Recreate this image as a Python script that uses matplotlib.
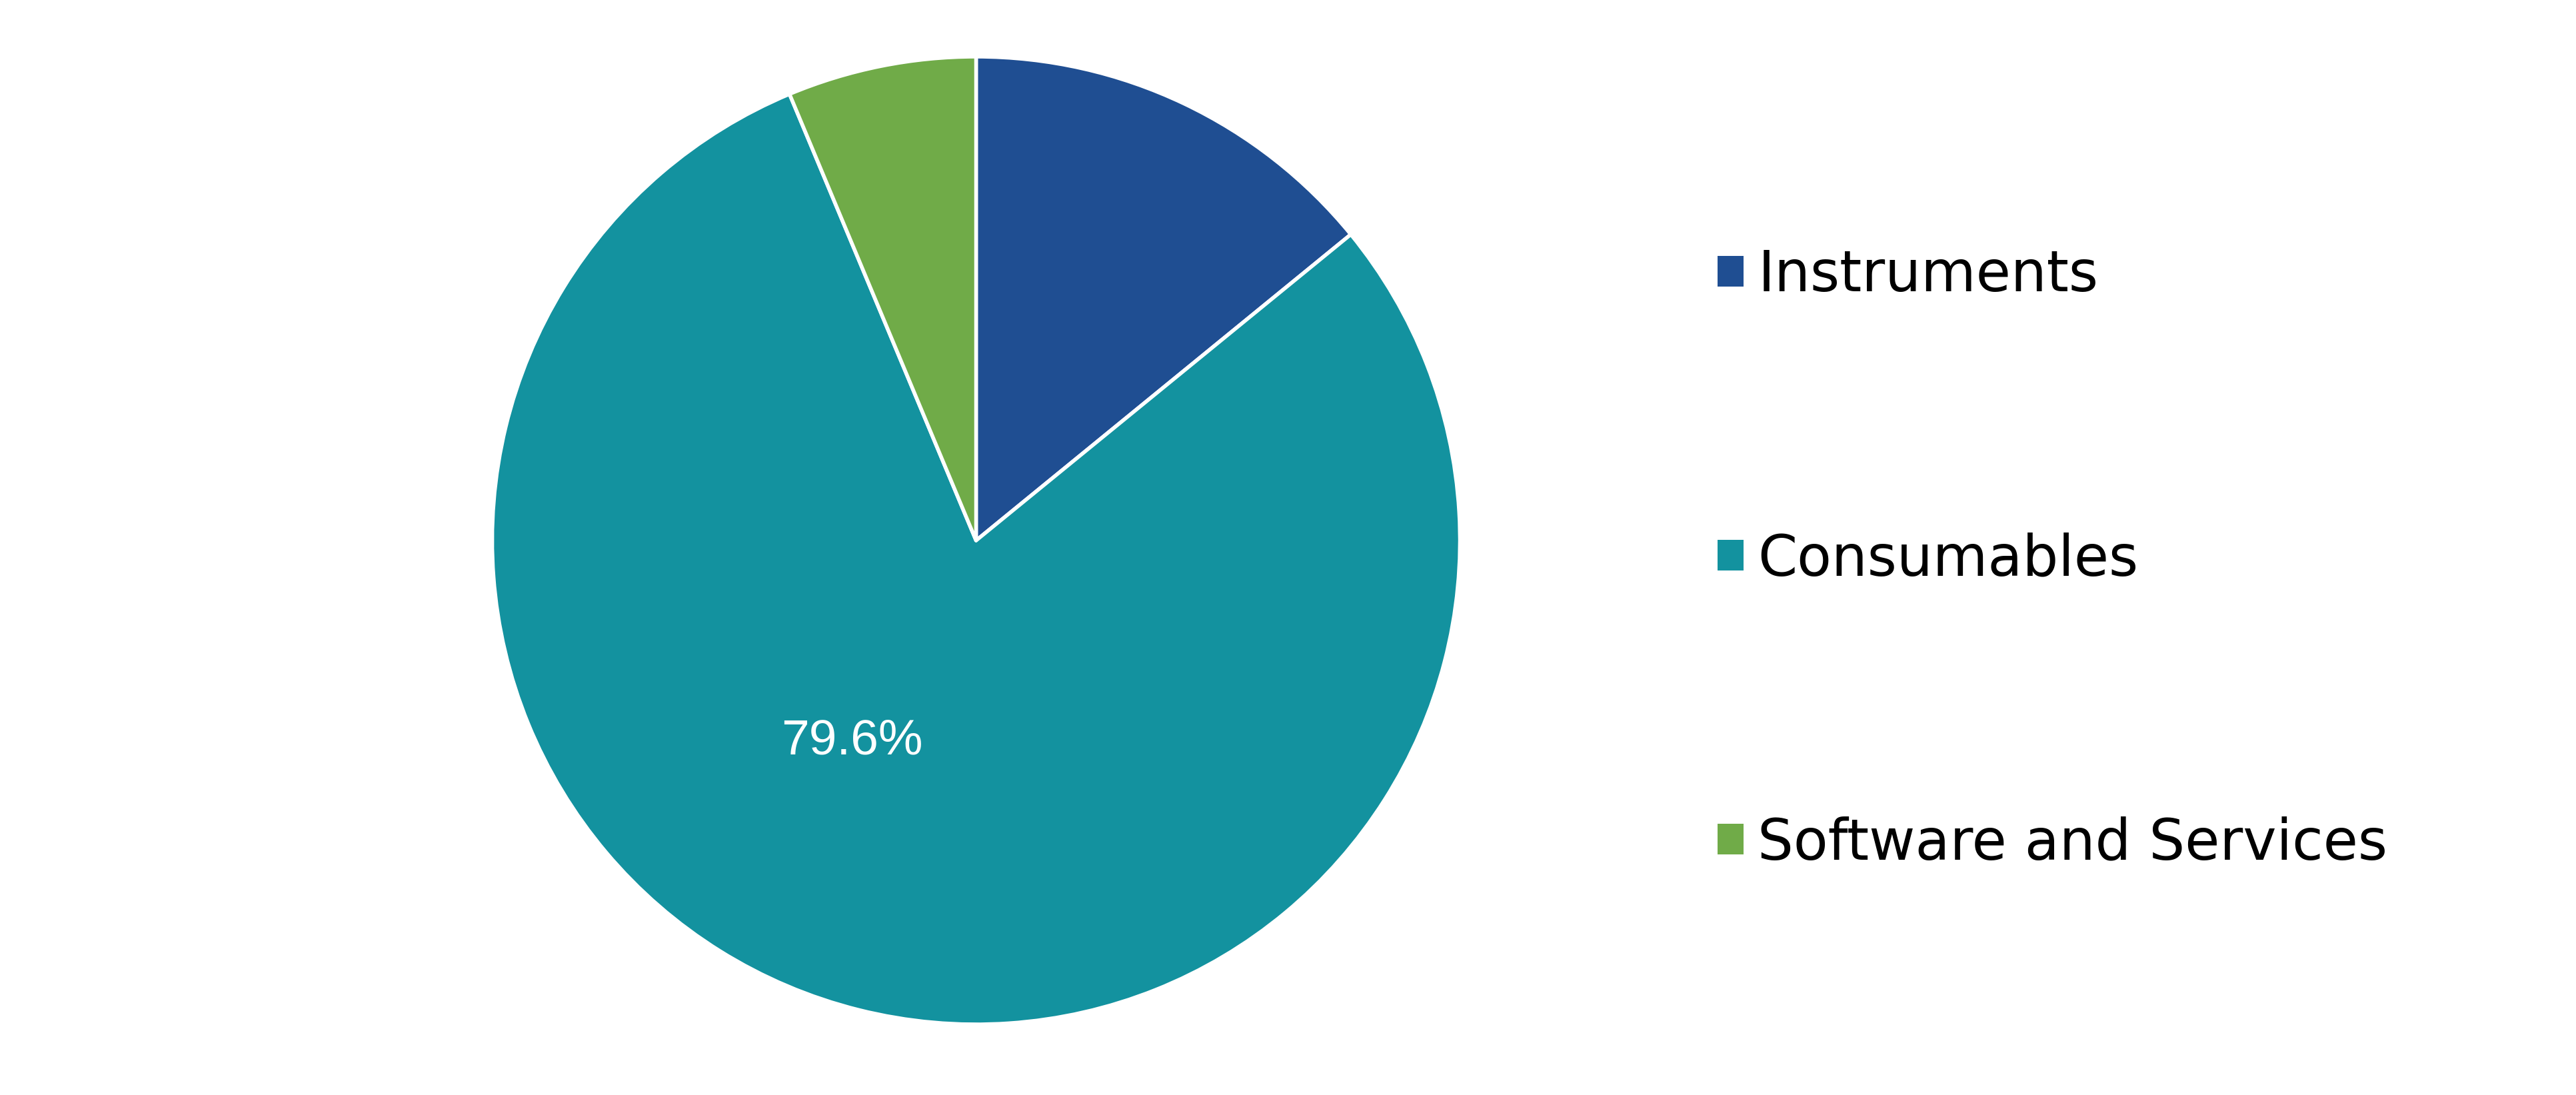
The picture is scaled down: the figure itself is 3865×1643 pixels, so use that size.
import matplotlib
matplotlib.use("Agg")
import matplotlib.pyplot as plt
from matplotlib.patches import Patch

categories = ["Instruments", "Consumables", "Software and Services"]
shares = [14.1, 79.6, 6.3]
colors = ["#1F4E92", "#13929F", "#70AB48"]
shown_label = "79.6%"

W, H, DPI = 3866, 1643, 200
fig = plt.figure(figsize=(W / DPI, H / DPI), dpi=DPI)
fig.patch.set_facecolor("white")

cx, cy, r = 1464.5, 811, 726
ax = fig.add_axes([(cx - r) / W, (H - cy - r) / H, 2 * r / W, 2 * r / H])
wedges, _ = ax.pie(shares, colors=colors, startangle=90, counterclock=False,
                   radius=1.0,
                   wedgeprops=dict(edgecolor="white", linewidth=2.0, joinstyle="round"))
ax.set_xlim(-1, 1)
ax.set_ylim(-1, 1)
ax.set_aspect("equal")
ax.axis("off")

ax.text(-0.257, -0.415, shown_label, color="white", fontsize=27,
        family="Liberation Sans", ha="center", va="center")

handles = [Patch(facecolor=c, edgecolor="none") for c in colors]
leg = fig.legend(handles, categories, loc="upper left",
                 bbox_to_anchor=(2577 / W, 1 - 372 / H),
                 frameon=False, prop=dict(family="DejaVu Sans", size=30.5),
                 handlelength=0.46, handleheight=0.46, handletextpad=0.25,
                 labelspacing=4.05, borderaxespad=0, borderpad=0)

fig.savefig("out.png", dpi=DPI, facecolor="white")
